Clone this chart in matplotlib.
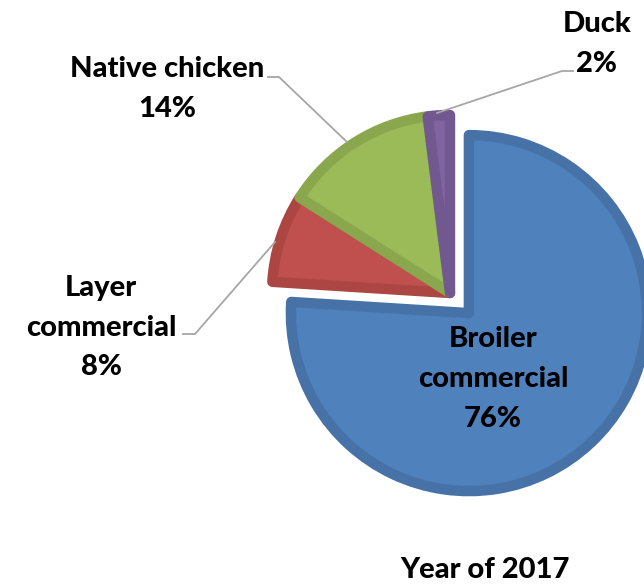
import matplotlib
matplotlib.use("Agg")
import matplotlib.pyplot as plt

categories = ["Broiler commercial", "Layer commercial", "Native chicken", "Duck"]
shares = [76, 8, 14, 2]
fill_colors = ["#4F81BD", "#C0504D", "#9BBB59", "#8064A2"]
edge_colors = ["#4672A8", "#AB4642", "#8AA74E", "#715990"]
title = "Year of 2017"

W, H = 644, 584
CX, CY, R = 450.0, 293.0, 178.0

def px(x, y):
    return ((x - CX) / R, (CY - y) / R)

fig = plt.figure(figsize=(W / 100, H / 100), dpi=100)
ax = fig.add_axes([0, 0, 1, 1])

wedges, _ = ax.pie(shares, startangle=90, counterclock=False,
                   explode=[0.155, 0, 0, 0], radius=1.0, center=(0, 0),
                   colors=fill_colors, frame=True)
ax.set_xlim(px(0, 0)[0], px(W, 0)[0])
ax.set_ylim(px(0, H)[1], px(0, 0)[1])
ax.axis("off")
for w, ec in zip(wedges, edge_colors):
    w.set_edgecolor(ec)
    w.set_linewidth(7.5)
    w.set_joinstyle("round")
    w.set_clip_path(w)

font = dict(family=["Lato", "DejaVu Sans"], fontweight=900, fontsize=21,
            color="black", ha="center", va="baseline")

def lines(xc, baselines, texts):
    for yb, t in zip(baselines, texts):
        ax.text(*px(xc, yb), t, **font)

lines(493, [347, 387, 427], ["Broiler", "commercial", f"{shares[0]}%"])
lines(101, [296, 336, 375], ["Layer", "commercial", f"{shares[1]}%"])
lines(167, [77, 117], ["Native chicken", f"{shares[2]}%"])
lines(597, [32, 72], ["Duck", f"{shares[3]}%"])
ax.text(*px(485, 578), title, **font)

lc = "#A6A6A6"
def leader(pts):
    xs, ys = zip(*[px(x, y) for x, y in pts])
    ax.plot(xs, ys, color=lc, lw=1.3, solid_joinstyle="miter")

leader([(268, 77), (279, 77), (347, 142)])
leader([(573, 71), (562, 71), (437, 113)])
leader([(183, 334), (195, 334), (275, 242)])

fig.savefig("out.png", dpi=100)
